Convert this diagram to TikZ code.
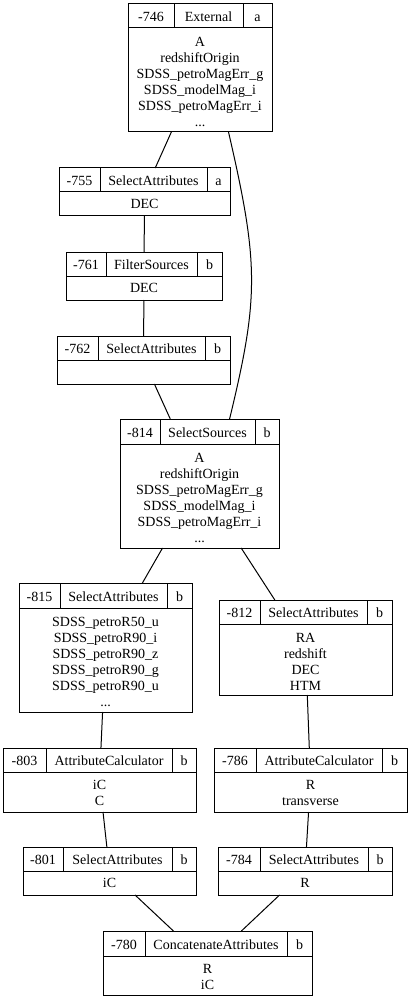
\documentclass[tikz,border=0pt]{standalone}
\usepackage{fontspec}
\setmainfont{Liberation Serif}
\usepackage{tikz}
\usetikzlibrary{positioning}

\begin{document}
\begin{tikzpicture}[x = 1pt, y = -1pt,
  every node/.style = {font = \fontsize{14}{16}\selectfont},
  recbox/.style = {draw, rectangle, line width = 1pt, inner sep = 0pt, outer sep = 0pt},
  recline/.style = {line width = 1pt},
  headtext/.style = {inner sep = 0pt, text height = 11pt, text depth = 0pt},
  bodytext/.style = {inner sep = 0pt, align = center},
  link/.style = {line width = 1pt}]

  \useasboundingbox (0, 0) rectangle (410, 1000);

  % ------------------------
  % upper chain
  % ------------------------

  % -746 External
  \node[recbox, minimum width = 144, minimum height = 128] (R746) at (200, 68) {};
  \draw[recline] (128, 28) -- (272, 28);
  \draw[recline] (174, 4) -- (174, 28);
  \draw[recline] (243, 4) -- (243, 28);
  \node[headtext] (R746id) at (151, 16) {-746};
  \node[headtext] (R746op) at (208.5, 16) {External};
  \node[headtext] (R746fl) at (257.5, 16) {a};
  \node[bodytext] (R746at) at (200, 82) {A\\redshiftOrigin\\SDSS\_petroMagErr\_g\\SDSS\_modelMag\_i\\SDSS\_petroMagErr\_i\\...};

  % -755 SelectAttributes
  \node[recbox, minimum width = 171, minimum height = 48] (R755) at (144.5, 192) {};
  \draw[recline] (59, 192) -- (230, 192);
  \draw[recline] (100, 168) -- (100, 192);
  \draw[recline] (207, 168) -- (207, 192);
  \node[headtext] (R755id) at (79.5, 180) {-755};
  \node[headtext] (R755op) at (153.5, 180) {SelectAttributes};
  \node[headtext] (R755fl) at (218.5, 180) {a};
  \node[bodytext] (R755at) at (144.5, 204) {DEC};

  % -761 FilterSources
  \node[recbox, minimum width = 156, minimum height = 48] (R761) at (144, 276) {};
  \draw[recline] (66, 276) -- (222, 276);
  \draw[recline] (106, 252) -- (106, 276);
  \draw[recline] (197, 252) -- (197, 276);
  \node[headtext] (R761id) at (86, 264) {-761};
  \node[headtext] (R761op) at (151.5, 264) {FilterSources};
  \node[headtext] (R761fl) at (209.5, 264) {b};
  \node[bodytext] (R761at) at (144, 288) {DEC};

  % -762 SelectAttributes
  \node[recbox, minimum width = 173, minimum height = 48] (R762) at (143.5, 360) {};
  \draw[recline] (57, 360) -- (230, 360);
  \draw[recline] (98, 336) -- (98, 360);
  \draw[recline] (205, 336) -- (205, 360);
  \node[headtext] (R762id) at (77.5, 348) {-762};
  \node[headtext] (R762op) at (151.5, 348) {SelectAttributes};
  \node[headtext] (R762fl) at (217.5, 348) {b};

  % -814 SelectSources
  \node[recbox, minimum width = 159, minimum height = 129] (R814) at (199.5, 483.5) {};
  \draw[recline] (120, 444) -- (279, 444);
  \draw[recline] (160, 419) -- (160, 444);
  \draw[recline] (255, 419) -- (255, 444);
  \node[headtext] (R814id) at (140, 431.5) {-814};
  \node[headtext] (R814op) at (207.5, 431.5) {SelectSources};
  \node[headtext] (R814fl) at (267, 431.5) {b};
  \node[bodytext] (R814at) at (199.5, 498) {A\\redshiftOrigin\\SDSS\_petroMagErr\_g\\SDSS\_modelMag\_i\\SDSS\_petroMagErr\_i\\...};

  % ------------------------
  % two branches
  % ------------------------

  % -815 SelectAttributes
  \node[recbox, minimum width = 173, minimum height = 129] (R815) at (105.5, 647.5) {};
  \draw[recline] (19, 608) -- (192, 608);
  \draw[recline] (60, 583) -- (60, 608);
  \draw[recline] (167, 583) -- (167, 608);
  \node[headtext] (R815id) at (39.5, 595.5) {-815};
  \node[headtext] (R815op) at (113.5, 595.5) {SelectAttributes};
  \node[headtext] (R815fl) at (179.5, 595.5) {b};
  \node[bodytext] (R815at) at (105.5, 662) {SDSS\_petroR50\_u\\SDSS\_petroR90\_i\\SDSS\_petroR90\_z\\SDSS\_petroR90\_g\\SDSS\_petroR90\_u\\...};

  % -812 SelectAttributes
  \node[recbox, minimum width = 173, minimum height = 95] (R812) at (305.5, 647.5) {};
  \draw[recline] (219, 624) -- (392, 624);
  \draw[recline] (260, 600) -- (260, 624);
  \draw[recline] (367, 600) -- (367, 624);
  \node[headtext] (R812id) at (239.5, 612) {-812};
  \node[headtext] (R812op) at (313.5, 612) {SelectAttributes};
  \node[headtext] (R812fl) at (379.5, 612) {b};
  \node[bodytext] (R812at) at (305.5, 661.5) {RA\\redshift\\DEC\\HTM};

  % -803 AttributeCalculator
  \node[recbox, minimum width = 193, minimum height = 64] (R803) at (99.5, 780) {};
  \draw[recline] (3, 772) -- (196, 772);
  \draw[recline] (46, 748) -- (46, 772);
  \draw[recline] (172, 748) -- (172, 772);
  \node[headtext] (R803id) at (24.5, 760) {-803};
  \node[headtext] (R803op) at (109, 760) {AttributeCalculator};
  \node[headtext] (R803fl) at (184, 760) {b};
  \node[bodytext] (R803at) at (99.5, 793) {iC\\C};

  % -786 AttributeCalculator
  \node[recbox, minimum width = 193, minimum height = 64] (R786) at (310.5, 780) {};
  \draw[recline] (214, 772) -- (407, 772);
  \draw[recline] (256, 748) -- (256, 772);
  \draw[recline] (382, 748) -- (382, 772);
  \node[headtext] (R786id) at (235, 760) {-786};
  \node[headtext] (R786op) at (319, 760) {AttributeCalculator};
  \node[headtext] (R786fl) at (394.5, 760) {b};
  \node[bodytext] (R786at) at (310.5, 793) {R\\transverse};

  % -801 SelectAttributes
  \node[recbox, minimum width = 173, minimum height = 48] (R801) at (109.5, 871) {};
  \draw[recline] (23, 871) -- (196, 871);
  \draw[recline] (63, 847) -- (63, 871);
  \draw[recline] (172, 847) -- (172, 871);
  \node[headtext] (R801id) at (43, 859) {-801};
  \node[headtext] (R801op) at (117.5, 859) {SelectAttributes};
  \node[headtext] (R801fl) at (184, 859) {b};
  \node[bodytext] (R801at) at (109.5, 883) {iC};

  % -784 SelectAttributes
  \node[recbox, minimum width = 174, minimum height = 48] (R784) at (305, 871) {};
  \draw[recline] (218, 871) -- (392, 871);
  \draw[recline] (260, 847) -- (260, 871);
  \draw[recline] (368, 847) -- (368, 871);
  \node[headtext] (R784id) at (239, 859) {-784};
  \node[headtext] (R784op) at (314, 859) {SelectAttributes};
  \node[headtext] (R784fl) at (380, 859) {b};
  \node[bodytext] (R784at) at (305, 883) {R};

  % -780 ConcatenateAttributes
  \node[recbox, minimum width = 209, minimum height = 64] (R780) at (207.5, 963) {};
  \draw[recline] (103, 956) -- (312, 956);
  \draw[recline] (145, 931) -- (145, 956);
  \draw[recline] (287, 931) -- (287, 956);
  \node[headtext] (R780id) at (124, 943.5) {-780};
  \node[headtext] (R780op) at (216, 943.5) {ConcatenateAttributes};
  \node[headtext] (R780fl) at (299.5, 943.5) {b};
  \node[bodytext] (R780at) at (207.5, 976.5) {R\\iC};

  % ------------------------
  % links
  % ------------------------

  \draw[link] (R746) -- (R755);
  \draw[link] (R755) -- (R761);
  \draw[link] (R761) -- (R762);
  \draw[link] (R762) -- (R814);
  \draw[link] (R746.-66.4) .. controls +(30.5, 132) and +(29.5, -122) .. (R814.65.4);
  \draw[link] (R814) -- (R815);
  \draw[link] (R814) -- (R812);
  \draw[link] (R815) -- (R803);
  \draw[link] (R812) -- (R786);
  \draw[link] (R803) -- (R801);
  \draw[link] (R786) -- (R784);
  \draw[link] (R801) -- (R780);
  \draw[link] (R784) -- (R780);
\end{tikzpicture}
\end{document}
